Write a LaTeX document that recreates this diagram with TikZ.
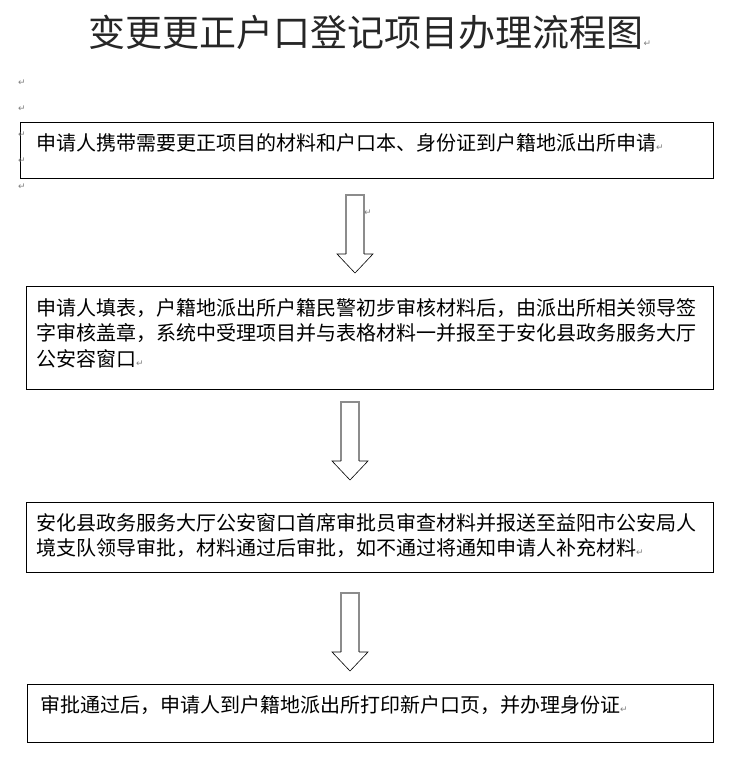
\documentclass[tikz,border=0pt]{standalone}
\usepackage{fontspec}
\setmainfont{Noto Sans CJK SC}
\newfontfamily\markfont{DejaVu Sans}
\usetikzlibrary{positioning}
\tikzset{>=stealth}
\tikzset{
  stepbox/.style={draw, line width=1.2pt, anchor=north west, inner sep=0pt},
  steptext/.style={inner sep=0pt, align=left, font=\fontsize{20}{25.5}\selectfont},
  retmark/.style={text=gray, inner sep=0pt, font=\markfont\fontsize{9}{9}\selectfont},
  shaft/.style={draw=gray!90, line width=1.8pt},
  head/.style={draw=black, line width=0.6pt}
}
\newcommand{\retm}{{\markfont\fontsize{9}{9}\selectfont\textcolor{gray}{↵}}}
\newcommand{\BlockArrow}[1]{%
  \draw[shaft, shift={(#1)}] (-9,59) -- (-9,0) -- (9,0) -- (9,59);
  \draw[head, shift={(#1)}] (-9,59) -- (-18,59) -- (0,78) -- (18,59) -- (9,59);
}

\begin{document}
\begin{tikzpicture}[x=1pt, y=-1pt]
    \useasboundingbox (0,0) rectangle (735,762);
    \node[font=\fontsize{37}{42}\selectfont, text=black!85, anchor=west] (title) at (85,32) {变更更正户口登记项目办理流程图\retm};
    % boxes
    \node[stepbox, minimum width=693pt, minimum height=56pt] (b1) at (20,122) {};
    \node[stepbox, minimum width=687pt, minimum height=103pt] (b2) at (26,286) {};
    \node[stepbox, minimum width=687pt, minimum height=70pt] (b3) at (26,502) {};
    \node[stepbox, minimum width=686pt, minimum height=58pt] (b4) at (27,684) {};
    \node[steptext, below right=11pt and 16pt of b1.north west] (t1) {申请人携带需要更正项目的材料和户口本、身份证到户籍地派出所申请\retm};
    \node[steptext, below right=12pt and 10pt of b2.north west] (t2) {申请人填表，户籍地派出所户籍民警初步审核材料后，由派出所相关领导签\\字审核盖章，系统中受理项目并与表格材料一并报至于安化县政务服务大厅\\公安容窗口\retm};
    \node[steptext, below right=11pt and 10pt of b3.north west] (t3) {安化县政务服务大厅公安窗口首席审批员审查材料并报送至益阳市公安局人\\境支队领导审批，材料通过后审批，如不通过将通知申请人补充材料\retm};
    \node[steptext, below right=11pt and 13pt of b4.north west] (t4) {审批通过后，申请人到户籍地派出所打印新户口页，并办理身份证\retm};
    % arrows
    \coordinate (a1) at (355,195);
    \coordinate (a2) at (350,402);
    \coordinate (a3) at (350,593);
    \BlockArrow{a1}
    \BlockArrow{a2}
    \BlockArrow{a3}
    % paragraph marks
    \foreach \y [count=\i] in {83,109,135,161,187}
        \node[retmark] (m\i) at (22,\y) {↵};
    \node[retmark] (r1) at (368,213) {↵};
\end{tikzpicture}
\end{document}
